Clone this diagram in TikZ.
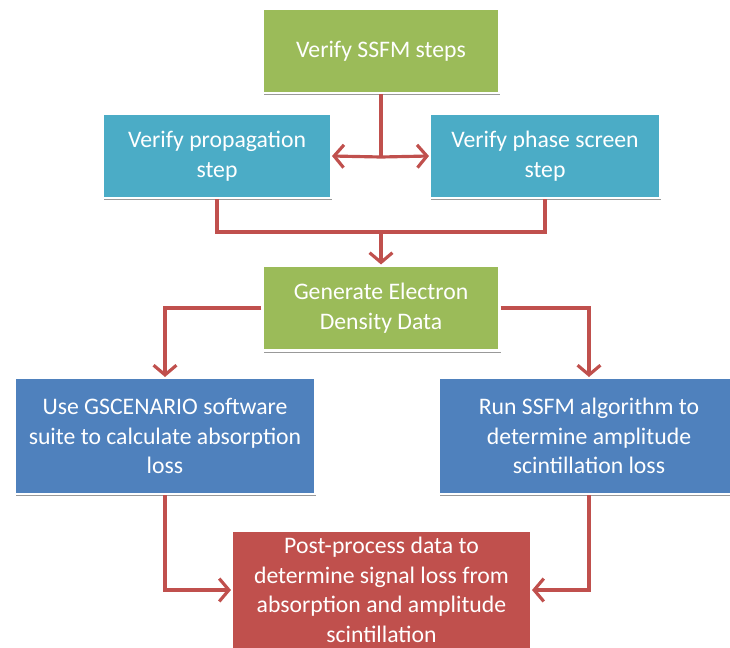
\documentclass[tikz,border=0pt]{standalone}
\usepackage{fontspec}
\setmainfont{Carlito}
\usetikzlibrary{arrows.meta,shadows}
\definecolor{offgreen}{HTML}{9BBB59}
\definecolor{offteal}{HTML}{4BACC6}
\definecolor{offblue}{HTML}{4F81BD}
\definecolor{offred}{HTML}{C0504D}

\begin{document}
\begin{tikzpicture}[
  x=0.02cm, y=-0.02cm,
  box/.style={draw=white, line width=1.2pt, align=center, inner sep=2pt,
              text=white, font=\fontsize{13.5}{16.8}\selectfont,
              drop shadow={shadow xshift=0.8pt, shadow yshift=-1.2pt,
                           opacity=0.4, fill=black}},
  arr/.style={-{Straight Barb[length=5.5pt,width=13pt]}, line width=1.8pt,
              draw=offred},
  line/.style={line width=1.8pt, draw=offred},
]
\useasboundingbox (0,0) rectangle (730,647);

% ---- Verification steps ----
\node[box, fill=offgreen, minimum width=4.72cm, minimum height=1.68cm]
  (ssfm) at (381, 51) {Verify SSFM steps};
\node[box, fill=offteal, minimum width=4.56cm, minimum height=1.68cm]
  (prop) at (217, 156) {Verify propagation\\step};
\node[box, fill=offteal, minimum width=4.6cm, minimum height=1.68cm]
  (phase) at (545, 156) {Verify phase screen\\step};

\coordinate (split) at (381, 157);
\coordinate (join) at (381, 232);

\draw[line] (ssfm.south) -- (split);
\draw[arr] (split) -- (prop.east);
\draw[arr] (split) -- (phase.west);

% ---- Data generation ----
\node[box, fill=offgreen, minimum width=4.74cm, minimum height=1.7cm]
  (gen) at (381, 308) {Generate Electron\\Density Data};

\draw[line] (prop.south) |- (join) -| (phase.south);
\draw[arr] (join) -- (gen.north);

% ---- Loss calculations ----
\node[box, fill=offblue, minimum width=6.0cm, minimum height=2.32cm]
  (gsc) at (165, 436)
  {Use GSCENARIO software\\suite to calculate absorption\\loss};
\node[box, fill=offblue, minimum width=6.0cm, minimum height=2.32cm]
  (run) at (589, 436)
  {Run SSFM algorithm to\\determine amplitude\\scintillation loss};

\draw[arr] (gen.west) -| (gsc.north);
\draw[arr] (gen.east) -| (run.north);

% ---- Post-processing ----
\node[box, fill=offred, minimum width=5.98cm, minimum height=2.38cm]
  (post) at (381.5, 590)
  {Post-process data to\\determine signal loss from\\absorption and amplitude\\scintillation};

\draw[arr] (gsc.south) |- (post.west);
\draw[arr] (run.south) |- (post.east);

\end{tikzpicture}
\end{document}
